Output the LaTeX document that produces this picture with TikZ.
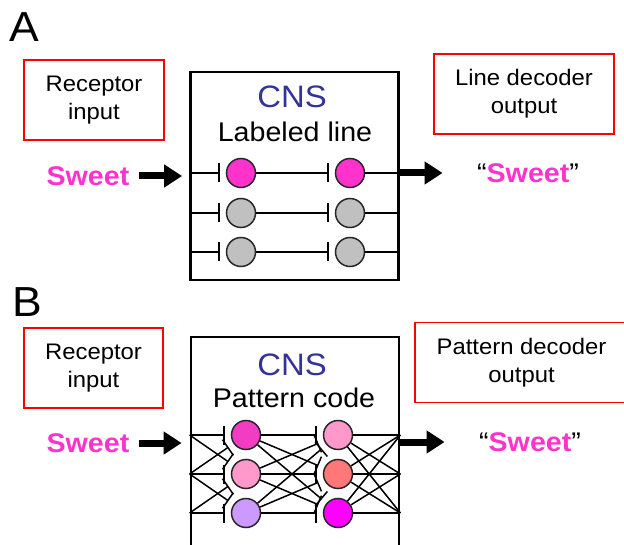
\documentclass[tikz,border=0pt]{standalone}
\usepackage{fontspec}
\setmainfont{Liberation Sans}[FakeStretch=1.06]
\usepackage{tikz}
\usetikzlibrary{positioning}
\usetikzlibrary{arrows.meta}

\definecolor{sweet}{HTML}{FF33CC}
\definecolor{cnsblue}{HTML}{333399}
\definecolor{cellgray}{HTML}{C0C0C0}
\definecolor{pinkhi}{HTML}{F23CC4}
\definecolor{pinklo}{HTML}{FF99CC}
\definecolor{lilac}{HTML}{CC99FF}
\definecolor{salmon}{HTML}{FF7777}
\definecolor{fuchsia}{HTML}{FF00FF}

\begin{document}
\begin{tikzpicture}[x=1pt, y=-1pt,
    redbox/.style={draw=red, line width=1.6pt, minimum height=80pt, align=center,
        font=\fontsize{22.5}{28}\selectfont},
    cnsbox/.style={draw, line width=2.8pt, minimum width=208pt},
    cell/.style={circle, draw=black!85, line width=1.5pt, minimum size=29pt, inner sep=0pt},
    wire/.style={line width=1.5pt},
    inh/.style={wire, -{Bar[width=19pt, line width=1.5pt]}, shorten >=6pt},
    bigarrow/.style={line width=7pt, -{Triangle[length=18pt, width=22pt]}},
    word/.style={font=\fontsize{27}{30}\selectfont\bfseries, text=sweet},
    quote/.style={font=\fontsize{27}{30}\selectfont},
    panel/.style={font=\fontsize{42}{44}\selectfont}]

    \useasboundingbox (0,0) rectangle (624,545);
    \clip (0,0) rectangle (624,545);

    % panel A: labeled line
    \node[panel] (labA) at (24,27) {A};
    \node[redbox, minimum width=140pt] (recA) at (94,100) {Receptor\\input};
    \node[redbox, minimum width=180pt] (decA) at (524,94) {Line decoder\\output};
    \node[cnsbox, minimum height=208pt] (cnsA) at (294.5,176) {};
    \node[text=cnsblue, font=\fontsize{31}{32}\selectfont, anchor=base] (titleA) at (292,108) {CNS};
    \node[font=\fontsize{27}{30}\selectfont, anchor=base] (codeA) at (295,142) {Labeled line};
    \node[word] (inA) at (88,176) {Sweet};
    \node[quote] (outA) at (528,173) {``{\bfseries\color{sweet}Sweet}''};

    \foreach \r/\y/\c in {1/173/sweet, 2/213/cellgray, 3/252/cellgray} {
        \node[cell, fill=\c] (a\r1) at (241,\y) {};
        \node[cell, fill=\c] (a\r2) at (350,\y) {};
        \draw[inh] (a\r1 -| cnsA.west) -- (a\r1);
        \draw[inh] (a\r1) -- (a\r2);
        \draw[wire] (a\r2) -- (a\r2 -| cnsA.east);
    }

    \draw[bigarrow, shorten <=6pt, shorten >=7pt] (inA.east) -- (inA.east -| cnsA.west);
    \draw[bigarrow, shorten >=31pt] (outA.west -| cnsA.east) -- (outA.west);

    % panel B: pattern code
    \node[panel] (labB) at (27,302) {B};
    \node[redbox, minimum width=139pt] (recB) at (93.5,368) {Receptor\\input};
    \node[redbox, minimum width=213pt] (decB) at (521.5,362.5) {Pattern decoder\\output};
    \node[cnsbox, minimum height=215pt] (cnsB) at (295,444.5) {};
    \node[text=cnsblue, font=\fontsize{31}{32}\selectfont, anchor=base] (titleB) at (292,375) {CNS};
    \node[font=\fontsize{27}{30}\selectfont, anchor=base] (codeB) at (294,407) {Pattern code};
    \node[word] (inB) at (88,443) {Sweet};
    \node[quote] (outB) at (530,442) {``{\bfseries\color{sweet}Sweet}''};

    \foreach \r/\y/\cl/\cr in {1/435/pinkhi/pinklo, 2/474/pinklo/salmon, 3/513/lilac/fuchsia} {
        \node[cell, fill=\cl] (b\r1) at (246,\y) {};
        \node[cell, fill=\cr] (b\r2) at (338,\y) {};
    }
    \foreach \i/\j in {1/1, 2/2, 3/3, 1/2, 2/1, 2/3, 3/2}
        \draw[inh] (b\i1 -| cnsB.west) -- (b\j1);
    \foreach \i in {1,2,3}
        \foreach \j in {1,2,3} {
            \draw[inh] (b\i1) -- (b\j2);
            \draw[wire] (b\i2) -- (b\j2 -| cnsB.east);
        }

    \draw[bigarrow, shorten <=6pt, shorten >=8pt] (inB.east) -- (inB.east -| cnsB.west);
    \draw[bigarrow, shorten >=31pt] (outB.west -| cnsB.east) -- (outB.west);
\end{tikzpicture}
\end{document}
